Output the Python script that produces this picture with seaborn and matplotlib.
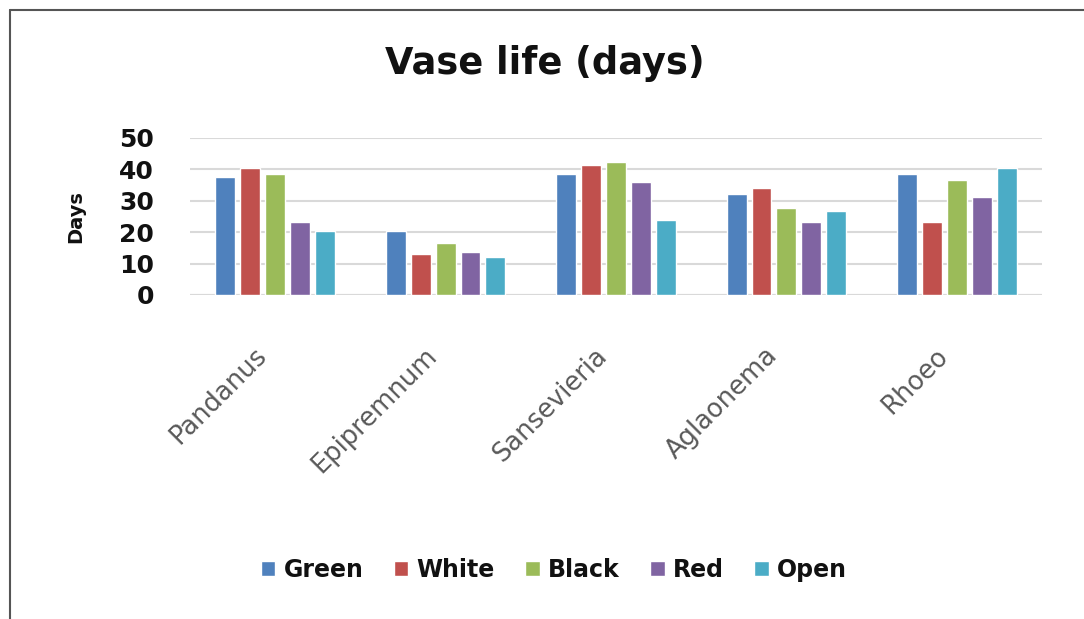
import pandas as pd
import seaborn as sns
import matplotlib.pyplot as plt
import matplotlib.transforms as mtransforms
from matplotlib.lines import Line2D

plants = ['Pandanus', 'Epipremnum', 'Sansevieria', 'Aglaonema', 'Rhoeo']
green = [37.6, 20.4, 38.5, 32.1, 38.5]
white = [40.4, 13.0, 41.5, 34.0, 23.1]
black = [38.5, 16.5, 42.3, 27.6, 36.7]
red = [23.1, 13.8, 36.0, 23.1, 31.2]
open_ = [20.4, 12.2, 23.9, 26.8, 40.4]

series = ['Green', 'White', 'Black', 'Red', 'Open']
colors = ['#4F81BD', '#C0504D', '#9BBB59', '#8064A2', '#4BACC6']

df = pd.DataFrame({'Plant': plants, 'Green': green, 'White': white,
                   'Black': black, 'Red': red, 'Open': open_})
long = df.melt(id_vars='Plant', var_name='Cover', value_name='Days')

sns.set_style("white")
plt.rcParams['font.family'] = ['DejaVu Sans']

fig = plt.figure(figsize=(10.84, 6.19), dpi=100)
ax = fig.add_axes([190 / 1084, 1 - 295 / 619, 852 / 1084, 157 / 619])

sns.barplot(data=long, x='Plant', y='Days', hue='Cover', hue_order=series,
            palette=colors, width=0.73, gap=0.2, saturation=1, ax=ax)

ax.set_ylim(0, 50)
ax.set_yticks([0, 10, 20, 30, 40, 50])
ax.yaxis.grid(True, color='#D9D9D9', linewidth=1.5)
ax.set_axisbelow(True)
for s in ax.spines.values():
    s.set_visible(False)
ax.axhline(0, color='#D9D9D9', linewidth=1.5, zorder=0)

ax.tick_params(axis='y', length=0, pad=26, labelsize=18, labelcolor='#111111')
for lab in ax.get_yticklabels():
    lab.set_fontweight('bold')
ax.tick_params(axis='x', length=0, pad=41, labelsize=18.5, labelcolor='#595959')
shift = mtransforms.ScaledTranslation(-9 / 72, 0, fig.dpi_scale_trans)
for lab in ax.get_xticklabels():
    lab.set_rotation(45)
    lab.set_ha('right')
    lab.set_va('center')
    lab.set_rotation_mode('anchor')
    lab.set_transform(lab.get_transform() + shift)

ax.set_xlabel('')
ax.set_ylabel('Days', fontsize=14, fontweight='bold', labelpad=24, color='#111111')

fig.text(545 / 1084, 1 - 63 / 619, 'Vase life (days)', ha='center', va='center',
         fontsize=26.5, fontweight='bold', color='#111111')

handles, labels = ax.get_legend_handles_labels()
ax.legend_.remove()
fig.legend(handles, labels, loc='center', bbox_to_anchor=(554 / 1084, 1 - 570 / 619),
           ncol=5, frameon=False, handlelength=0.6, handleheight=0.6,
           handletextpad=0.35, columnspacing=1.3, labelcolor='#111111',
           prop={'weight': 'bold', 'size': 17})

# border of the chart area
fig.add_artist(Line2D([10 / 1084, 10 / 1084], [0, 1 - 10 / 619], color='#555555', lw=1.5))
fig.add_artist(Line2D([10 / 1084, 1], [1 - 10 / 619, 1 - 10 / 619], color='#555555', lw=1.5))

fig.savefig('out.png', dpi=100)
